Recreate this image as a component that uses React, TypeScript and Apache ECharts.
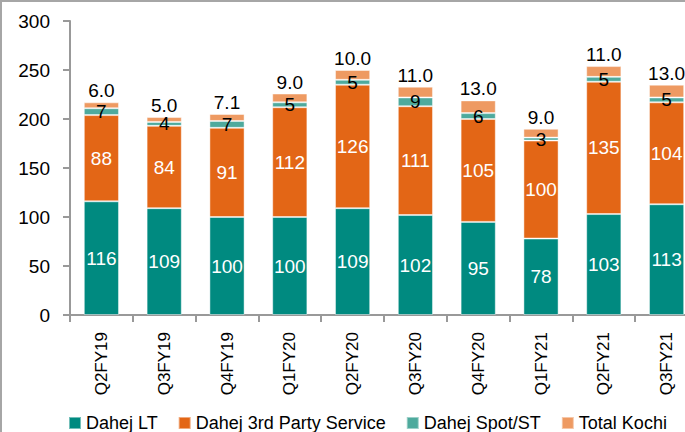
import React, { useEffect, useRef } from "react";
import * as echarts from "echarts";

const categories = ["Q2FY19", "Q3FY19", "Q4FY19", "Q1FY20", "Q2FY20", "Q3FY20", "Q4FY20", "Q1FY21", "Q2FY21", "Q3FY21"];
const dahejLT = [116, 109, 100, 100, 109, 102, 95, 78, 103, 113];
const dahej3rdParty = [88, 84, 91, 112, 126, 111, 105, 100, 135, 104];
const dahejSpot = [7, 4, 7, 5, 5, 9, 6, 3, 5, 5];
const totalKochi = [6.0, 5.0, 7.1, 9.0, 10.0, 11.0, 13.0, 9.0, 11.0, 13.0];
const yTicks = { min: 0, max: 300, interval: 50 };

const FONT = "Liberation Sans";

export default function App() {
  const ref = useRef<HTMLDivElement>(null);
  useEffect(() => {
    if (!ref.current) return;
    const chart = echarts.init(ref.current, undefined, { renderer: "svg" });
    const border = { borderColor: "rgba(255,255,255,0.45)", borderWidth: 1 };
    const lbl = (color: string, pos: any = "inside", extra: any = {}) => ({
      show: true,
      position: pos,
      color,
      fontFamily: FONT,
      fontSize: 19,
      ...extra,
    });
    chart.setOption({
      animation: false,
      backgroundColor: "#ffffff",
      textStyle: { fontFamily: FONT },
      grid: { left: 70, top: 21, width: 628, bottom: 117 },
      graphic: [
        { type: "line", shape: { x1: 0, y1: 1, x2: 720, y2: 1 }, style: { stroke: "#a6a6a6", lineWidth: 2 } },
        { type: "line", shape: { x1: 1, y1: 0, x2: 1, y2: 432 }, style: { stroke: "#a6a6a6", lineWidth: 2 } },
      ],
      legend: {
        left: 68,
        top: 414,
        padding: 0,
        itemGap: 20,
        itemWidth: 12,
        itemHeight: 12,
        icon: "rect",
        textStyle: { fontFamily: FONT, fontSize: 18, lineHeight: 18, color: "#000" },
        data: ["Dahej LT", "Dahej 3rd Party Service", "Dahej Spot/ST", "Total Kochi"],
      },
      xAxis: {
        type: "category",
        data: categories,
        axisLine: { lineStyle: { color: "#999999", width: 2 } },
        axisTick: { show: true, length: 7, lineStyle: { color: "#999999", width: 2 } },
        axisLabel: { rotate: 90, margin: 17, fontFamily: FONT, fontSize: 17, color: "#000" },
      },
      yAxis: {
        type: "value",
        min: yTicks.min,
        max: yTicks.max,
        interval: yTicks.interval,
        splitLine: { show: false },
        axisLine: { show: true, lineStyle: { color: "#999999", width: 2 } },
        axisTick: { show: true, length: 7, lineStyle: { color: "#999999", width: 2 } },
        axisLabel: { margin: 20, fontFamily: FONT, fontSize: 19, color: "#000" },
      },
      series: [
        {
          name: "Dahej LT",
          type: "bar",
          stack: "t",
          barWidth: "56%",
          data: dahejLT,
          itemStyle: { color: "#008a80", ...border },
          label: lbl("#ffffff"),
        },
        {
          name: "Dahej 3rd Party Service",
          type: "bar",
          stack: "t",
          data: dahej3rdParty,
          itemStyle: { color: "#e36616", ...border },
          label: lbl("#ffffff"),
        },
        {
          name: "Dahej Spot/ST",
          type: "bar",
          stack: "t",
          data: dahejSpot,
          itemStyle: { color: "#4eaa9d", ...border },
          label: lbl("#000000"),
        },
        {
          name: "Total Kochi",
          type: "bar",
          stack: "t",
          data: totalKochi,
          itemStyle: { color: "#ee9a62", ...border },
          label: lbl("#000000", "top", {
            distance: 2,
            formatter: (p: any) => Number(p.value).toFixed(1),
          }),
        },
      ],
    });
    return () => chart.dispose();
  }, []);
  return (
    <div
      style={{
        position: "fixed",
        left: 0,
        top: 0,
        width: 685,
        height: 432,
        overflow: "hidden",
        background: "#fff",
      }}
    >
      <div ref={ref} style={{ width: 720, height: 432 }} />
    </div>
  );
}
